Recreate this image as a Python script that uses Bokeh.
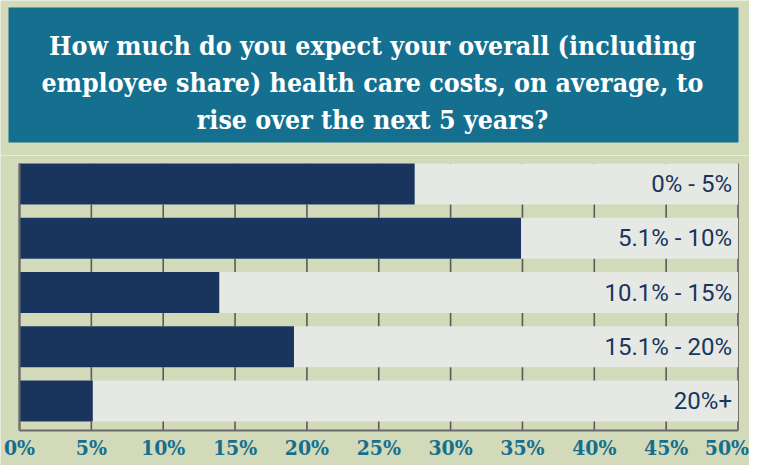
from bokeh.plotting import figure
from bokeh.layouts import column
from bokeh.models import Range1d, ColumnDataSource
from bokeh.core.properties import value
from bokeh.embed import file_html
from bokeh.resources import INLINE

# ---- data ----
categories = ["0% - 5%", "5.1% - 10%", "10.1% - 15%", "15.1% - 20%", "20%+"]
shares = [27.5, 34.9, 13.9, 19.1, 5.1]
tick_values = [0, 5, 10, 15, 20, 25, 30, 35, 40, 45, 50]
tick_labels = ["0%", "5%", "10%", "15%", "20%", "25%", "30%", "35%", "40%", "45%", "50%"]
title_lines = [
    "How much do you expect your overall (including",
    "employee share) health care costs, on average, to",
    "rise over the next 5 years?",
]
axis_max = 50

# ---- style ----
BG = "#d2dab9"
TEAL = "#156f8f"
NAVY = "#19355e"
TRACK = "#e6e8e3"
GRID = "#5a5a5a"
AXIS = "#6b6b6b"
W = 749
TITLE_H = 155
CHART_H = 310

# ---- title block ----
t = figure(width=W, height=TITLE_H, output_backend="svg", toolbar_location=None,
           x_range=Range1d(0, W), y_range=Range1d(TITLE_H, 0),
           x_axis_type=None, y_axis_type=None, min_border=0)
t.outline_line_color = None
t.background_fill_color = BG
t.border_fill_color = BG
t.xgrid.visible = False
t.ygrid.visible = False
t.quad(left=[8], right=[738], top=[7], bottom=[142], fill_color=TEAL, line_color=None)
t.text(x=[372] * len(title_lines), y=[45, 82, 119], text=title_lines,
       text_font=value("DejaVu Serif Condensed"), text_font_style="bold",
       text_font_size="26.5px", text_color="white",
       text_align="center", text_baseline="alphabetic")

# ---- chart (pixel layout constants) ----
n = len(categories)
ypos = [n - 1 - i for i in range(n)]
pitch = 54.25                 # px per category
bar_h = 41 / pitch
top_pad = 8 / pitch           # figure top -> first bar top
y_top_bar = (n - 1) + bar_h / 2
y_end = y_top_bar + top_pad
y_start = y_end - CHART_H / pitch
axis_y = y_end - 275 / pitch
label_y = y_end - 292 / pitch

zero_px, max_px = 19, 737.5
dpp = axis_max / (max_px - zero_px)
x_range = Range1d(-zero_px * dpp, axis_max + (W - max_px) * dpp)

p = figure(width=W, height=CHART_H, output_backend="svg", toolbar_location=None,
           x_range=x_range, y_range=Range1d(y_start, y_end),
           x_axis_type=None, y_axis_type=None, min_border=0)
p.outline_line_color = None
p.background_fill_color = BG
p.border_fill_color = BG
p.xgrid.visible = False
p.ygrid.visible = False

# vertical grid lines (behind bars)
grid_src = ColumnDataSource(dict(x=tick_values, y0=[axis_y] * len(tick_values),
                                 y1=[y_top_bar] * len(tick_values)))
p.segment(x0="x", x1="x", y0="y0", y1="y1", source=grid_src,
          line_color=GRID, line_width=1.6)

src = ColumnDataSource(dict(y=ypos, v=shares, cat=categories,
                            full=[axis_max] * n, zero=[0] * n))
p.hbar(y="y", left="zero", right="full", height=bar_h, source=src,
       fill_color=TRACK, line_color=None)
p.hbar(y="y", left="zero", right="v", height=bar_h, source=src,
       fill_color=NAVY, line_color=None)
p.text(x="full", y="y", text="cat", source=src, x_offset=-6,
       text_font=value("Roboto"), text_font_size="24px", text_color=NAVY,
       text_align="right", text_baseline="middle")

# axis lines (left and bottom), on top
p.segment(x0=[0], x1=[0], y0=[axis_y], y1=[y_top_bar], line_color=AXIS, line_width=2)
p.segment(x0=[0], x1=[axis_max], y0=[axis_y], y1=[axis_y], line_color=AXIS, line_width=2.2)

# tick labels
tick_font = dict(text_font=value("DejaVu Serif Condensed"), text_font_style="bold",
                 text_font_size="21px", text_color=TEAL, text_baseline="middle")
p.text(x=tick_values[:-1], y=[label_y] * (len(tick_values) - 1), text=tick_labels[:-1],
       text_align="center", **tick_font)
p.text(x=tick_values[-1:], y=[label_y], text=tick_labels[-1:], x_offset=11,
       text_align="right", **tick_font)

layout = column(t, p, spacing=0)
open("out.html", "w").write(file_html(layout, INLINE))
